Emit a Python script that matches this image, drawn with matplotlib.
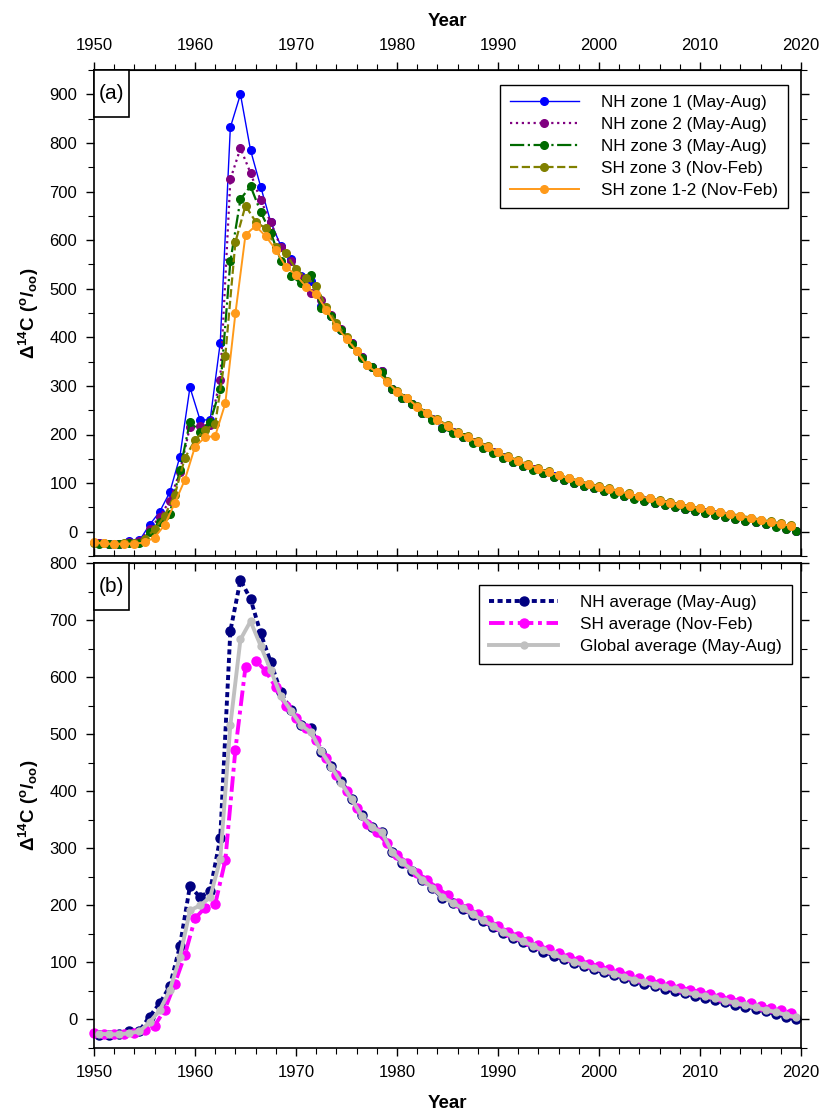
import numpy as np
import matplotlib.pyplot as plt
from matplotlib.ticker import MultipleLocator, FixedLocator
from matplotlib.patches import Rectangle

# years 1950..2019 ; NH (May-Aug) plotted mid-year, SH (Nov-Feb) at January
years = list(range(1950, 2020))

nh_zone1 = [-24, -25, -25, -20, -18, 14, 41, 81, 154, 297,
            230, 230, 389, 832, 900, 785, 710, 637, 588, 562,
            527, 516, 465, 444, 416, 388, 359, 339, 330, 294,
            276, 263, 245, 231, 214, 205, 195, 184, 174, 163,
            153, 144, 136, 128, 121, 114, 107, 101, 95, 90,
            84, 79, 74, 69, 65, 60, 56, 52, 47, 43,
            40, 36, 32, 28, 24, 20, 16, 11, 7, 2]
nh_zone2 = [-24, -25, -25, -21, -19, 5, 30, 64, 123, 216,
            218, 220, 313, 725, 789, 738, 682, 637, 585, 558,
            522, 491, 477, 446, 417, 388, 359, 339, 330, 294,
            276, 262, 245, 231, 214, 205, 195, 184, 173, 163,
            152, 144, 136, 128, 120, 113, 107, 100, 95, 89,
            84, 79, 74, 69, 64, 60, 55, 51, 47, 43,
            39, 35, 31, 27, 23, 19, 15, 11, 6, 2]
nh_zone3 = [-25, -26, -26, -24, -24, 0, 20, 37, 126, 226,
            206, 226, 294, 556, 684, 711, 658, 615, 558, 527,
            511, 529, 460, 444, 416, 387, 358, 338, 329, 293,
            275, 262, 244, 230, 213, 204, 194, 183, 173, 162,
            152, 143, 135, 127, 120, 113, 106, 100, 94, 89,
            83, 78, 73, 68, 64, 59, 55, 51, 46, 42,
            39, 35, 31, 27, 23, 19, 15, 10, 6, 1]
sh_zone3 = [-24, -24, -25, -24, -23, -15, 5, 33, 76, 152,
            188, 210, 221, 362, 596, 671, 638, 624, 585, 573,
            540, 523, 506, 462, 430, 400, 372, 344, 329, 310,
            289, 276, 258, 245, 231, 219, 205, 196, 186, 176,
            164, 155, 147, 139, 131, 124, 117, 111, 105, 99,
            94, 89, 84, 79, 74, 70, 65, 61, 57, 53,
            49, 45, 41, 37, 33, 29, 25, 21, 17, 13]
sh_zone12 = [-22, -24, -26, -25, -25, -22, -12, 14, 59, 107,
             175, 194, 197, 264, 449, 611, 629, 608, 580, 545,
             528, 504, 489, 457, 422, 397, 371, 342, 328, 309,
             288, 275, 257, 244, 230, 218, 204, 195, 185, 175,
             163, 154, 146, 138, 130, 123, 116, 110, 104, 98,
             93, 88, 83, 78, 73, 69, 64, 60, 56, 52,
             48, 44, 40, 36, 32, 28, 24, 20, 16, 12]

nh_avg = [-28, -27, -26, -21, -20, 5, 28, 58, 128, 234,
          214, 226, 318, 681, 770, 737, 677, 626, 574, 542,
          516, 510, 469, 445, 418, 387, 358, 338, 329, 293,
          275, 261, 244, 230, 213, 204, 194, 183, 172, 162,
          151, 143, 135, 127, 119, 112, 106, 99, 94, 88,
          83, 78, 73, 68, 63, 59, 54, 50, 46, 42,
          38, 34, 30, 26, 22, 18, 14, 10, 5, 0]
sh_avg = [-24, -25, -26, -25, -24, -19, -11, 17, 63, 113,
          177, 196, 202, 279, 473, 618, 629, 611, 582, 550,
          528, 511, 489, 459, 428, 401, 371, 342, 328, 309,
          288, 275, 257, 244, 230, 218, 204, 195, 185, 175,
          163, 154, 146, 138, 130, 123, 116, 110, 104, 98,
          93, 88, 83, 78, 73, 69, 64, 60, 56, 52,
          48, 44, 40, 36, 32, 28, 24, 20, 16, 12]
global_avg = [-25, -26, -26, -24, -21, -5, 16, 51, 109, 191,
              200, 214, 281, 516, 666, 698, 655, 612, 567, 541,
              516, 503, 470, 443, 414, 386, 357, 337, 328, 294,
              276, 262, 245, 231, 214, 205, 195, 184, 174, 164,
              153, 145, 137, 129, 121, 114, 108, 101, 96, 90,
              85, 80, 75, 70, 66, 61, 57, 53, 48, 44,
              41, 37, 33, 29, 25, 21, 17, 13, 8, 4]

year_ticks = [1950, 1960, 1970, 1980, 1990, 2000, 2010, 2020]

nh_x = [y + 0.5 for y in years]
sh_x = [y + 0.0 for y in years]

plt.rcParams['font.family'] = ['Liberation Sans', 'DejaVu Sans']
plt.rcParams['mathtext.fontset'] = 'custom'
plt.rcParams['mathtext.rm'] = 'Liberation Sans:bold'
plt.rcParams['mathtext.bf'] = 'Liberation Sans:bold'
plt.rcParams['mathtext.it'] = 'Liberation Sans:bold'

W, H = 824, 1115
fig = plt.figure(figsize=(W / 100, H / 100), dpi=100)
ax1 = fig.add_axes([94 / W, 1 - 556 / H, 707 / W, 486 / H])
ax2 = fig.add_axes([94 / W, 1 - 1048 / H, 707 / W, 485 / H])

ylab = r'$\Delta^{14}$C ($^{\mathrm{o}}$/$_{\mathrm{oo}}$)'

# panel (a)
ax1.plot(nh_x, nh_zone1, color='#0000FF', ls='-', lw=1.0, marker='o', ms=5.5,
         label='NH zone 1 (May-Aug)', clip_on=False)
ax1.plot(nh_x, nh_zone2, color='#800080', ls=':', lw=1.6, marker='o', ms=5.5,
         label='NH zone 2 (May-Aug)', clip_on=False)
ax1.plot(nh_x, nh_zone3, color='#006A00', ls='-.', lw=1.6, marker='o', ms=5.5,
         label='NH zone 3 (May-Aug)', clip_on=False)
ax1.plot(sh_x, sh_zone3, color='#808000', ls='--', lw=1.6, marker='o', ms=5.5,
         label='SH zone 3 (Nov-Feb)', clip_on=False)
ax1.plot(sh_x, sh_zone12, color='#FF9A1A', ls='-', lw=1.4, marker='o', ms=5.5,
         label='SH zone 1-2 (Nov-Feb)', clip_on=False)
ax1.set_ylim(-50, 950)

# panel (b)
ax2.plot(nh_x, nh_avg, color='#000080', ls=(0, (1.3, 0.9)), lw=2.8, marker='o', ms=6.5,
         label='NH average (May-Aug)', clip_on=False)
ax2.plot(sh_x, sh_avg, color='#FF00FF', ls=(0, (4.0, 1.2, 1.0, 1.2)), lw=2.8, marker='o', ms=6.5,
         label='SH average (Nov-Feb)', clip_on=False)
ax2.plot(nh_x, global_avg, color='#C0C0C0', ls='-', lw=2.8, marker='o', ms=5,
         label='Global average (May-Aug)', clip_on=False)
ax2.set_ylim(-50, 800)

tick_kw = dict(labelsize=12, pad=6)
legend_anchor = {ax1: (1 - 13 / 707, 1 - 15 / 486), ax2: (1 - 9 / 707, 1 - 22 / 485)}
for ax, tag in [(ax1, '(a)'), (ax2, '(b)')]:
    ax.set_xlim(1950, 2020)
    ax.xaxis.set_major_locator(FixedLocator(year_ticks))
    ax.xaxis.set_minor_locator(MultipleLocator(2))
    ax.yaxis.set_major_locator(MultipleLocator(100))
    ax.yaxis.set_minor_locator(MultipleLocator(50))
    ax.set_ylabel(ylab, fontsize=13.5, fontweight='bold', labelpad=6)
    ax.tick_params(which='major', length=6, width=1, **tick_kw)
    ax.tick_params(which='minor', length=4, width=0.8)
    ax.tick_params(axis='y', which='both', direction='out', left=True, right=True)
    for s in ax.spines.values():
        s.set_linewidth(1.2)
    # tag box flush in upper-left corner
    bw = 35 / 707
    bh = 47 / ax.bbox.height * (fig.dpi / 100)
    ax.add_patch(Rectangle((0, 1 - bh), bw, bh, transform=ax.transAxes, fc='white',
                           ec='black', lw=1.2, zorder=10, clip_on=False))
    ax.text(bw / 2, 1 - bh / 2, tag, transform=ax.transAxes, ha='center', va='center',
            fontsize=15, zorder=11)
    leg = ax.legend(loc='upper right', bbox_to_anchor=legend_anchor[ax], borderaxespad=0,
                    fontsize=12.3, handlelength=4.0, numpoints=1,
                    fancybox=False, edgecolor='black', framealpha=1,
                    borderpad=0.6, labelspacing=0.4, handletextpad=1.3)
    leg.get_frame().set_linewidth(1.0)

# panel (a): labelled ticks outward on top, plain ticks inward at bottom
ax1.tick_params(axis='x', which='both', direction='in', bottom=True, top=False, labelbottom=False)
sec1 = ax1.secondary_xaxis('top')
sec1.xaxis.set_major_locator(FixedLocator(year_ticks))
sec1.xaxis.set_minor_locator(MultipleLocator(2))
sec1.tick_params(which='major', direction='out', length=6, width=1, **tick_kw)
sec1.tick_params(which='minor', direction='out', length=4, width=0.8)
sec1.set_xlabel('Year', fontsize=13.5, fontweight='bold', labelpad=9)

# panel (b): labelled ticks outward at bottom, plain ticks inward on top
ax2.tick_params(axis='x', which='both', direction='out', bottom=True, top=False)
ax2.set_xlabel('Year', fontsize=13.5, fontweight='bold', labelpad=11)
sec2 = ax2.secondary_xaxis('top')
sec2.xaxis.set_major_locator(FixedLocator(year_ticks))
sec2.xaxis.set_minor_locator(MultipleLocator(2))
sec2.tick_params(which='major', direction='in', length=6, width=1, labeltop=False)
sec2.tick_params(which='minor', direction='in', length=4, width=0.8)

fig.savefig('out.png', dpi=100)
